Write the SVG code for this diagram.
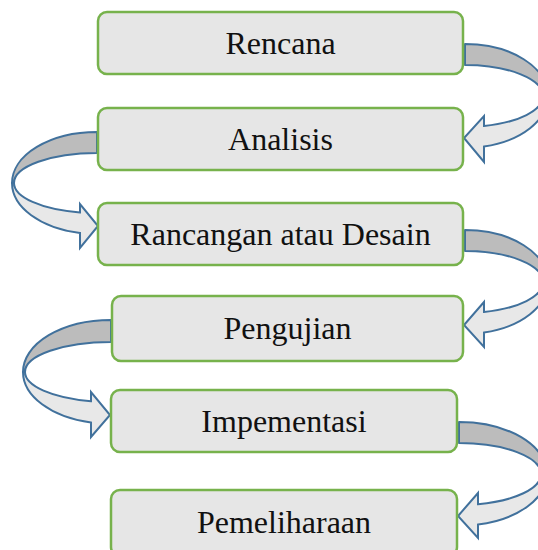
<svg xmlns="http://www.w3.org/2000/svg" width="538" height="550" viewBox="0 0 538 550">
  <style>
    .box { fill: #e6e6e6; stroke: #77b24c; stroke-width: 2.5; }
    .label { font-family: "Liberation Serif", "Times New Roman", serif; font-size: 32px; fill: #111; text-anchor: middle; }
    .back { fill: #bcbcbc; stroke: #41719c; stroke-width: 2; stroke-linejoin: round; }
    .front { fill: #e8e8e8; stroke: #41719c; stroke-width: 2; stroke-linejoin: miter; }
  </style>
  <rect width="538" height="550" fill="#ffffff"/>

  <!-- curved connectors between the steps -->
  <g id="connectors">
    <g id="c-rencana-analisis">
      <path class="back" d="M465,44 A83,52 0 0 1 548,96 L543,96 A78,31 0 0 0 465,65 Z"/>
      <path class="front" d="M548,96 A83,52 0 0 1 484,146.6 L484,162 L464,138 L484,116 L484,126 A78,31 0 0 0 543,96 Z"/>
    </g>
    <g id="c-analisis-rancangan">
      <path class="back" d="M97,132 A85,51 0 0 0 12,183 L14,183 A83,30 0 0 1 97,153 Z"/>
      <path class="front" d="M12,183 A85,51 0 0 0 80,232.9 L80,248 L98,226 L80,204 L80,212.4 A83,30 0 0 1 14,183 Z"/>
    </g>
    <g id="c-rancangan-pengujian">
      <path class="back" d="M465,230 A83,52 0 0 1 548,282 L543,282 A78,31 0 0 0 465,251 Z"/>
      <path class="front" d="M548,282 A83,52 0 0 1 484,332.6 L484,347 L464,325 L484,302 L484,312 A78,31 0 0 0 543,282 Z"/>
    </g>
    <g id="c-pengujian-impementasi">
      <path class="back" d="M111,320 A88,52 0 0 0 23,372 L25,372 A86,30 0 0 1 111,342 Z"/>
      <path class="front" d="M23,372 A88,52 0 0 0 91,422.6 L91,437 L110,415 L91,392 L91,401.2 A86,30 0 0 1 25,372 Z"/>
    </g>
    <g id="c-impementasi-pemeliharaan">
      <path class="back" d="M459,422 A88,52 0 0 1 547,474 L541,474 A82,31 0 0 0 459,443 Z"/>
      <path class="front" d="M547,474 A88,52 0 0 1 478,524.6 L478,538 L458,516 L478,493 L478,504.2 A82,31 0 0 0 541,474 Z"/>
    </g>
  </g>

  <!-- process steps -->
  <g id="rencana">
    <rect class="box" x="98" y="12" width="365" height="62" rx="9"/>
    <text class="label" x="280.5" y="54">Rencana</text>
  </g>
  <g id="analisis">
    <rect class="box" x="98" y="108" width="365" height="62" rx="9"/>
    <text class="label" x="280.5" y="150">Analisis</text>
  </g>
  <g id="rancangan">
    <rect class="box" x="98" y="203" width="365" height="62" rx="9"/>
    <text class="label" x="280.5" y="245">Rancangan atau Desain</text>
  </g>
  <g id="pengujian">
    <rect class="box" x="112" y="296" width="351" height="65" rx="9"/>
    <text class="label" x="287.5" y="339">Pengujian</text>
  </g>
  <g id="impementasi">
    <rect class="box" x="111" y="390" width="346" height="62" rx="9"/>
    <text class="label" x="284" y="432">Impementasi</text>
  </g>
  <g id="pemeliharaan">
    <rect class="box" x="111" y="490" width="346" height="66" rx="9"/>
    <text class="label" x="284" y="533">Pemeliharaan</text>
  </g>
</svg>
